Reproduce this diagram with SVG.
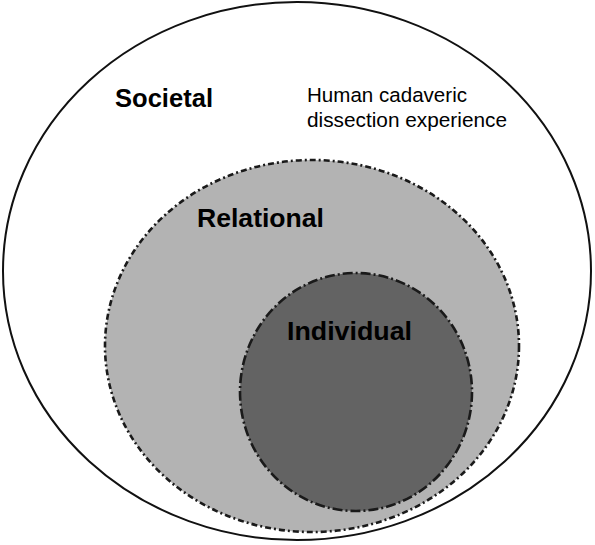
<svg xmlns="http://www.w3.org/2000/svg" width="595" height="545" viewBox="0 0 595 545">
  <style>
    .label { font-family: "Liberation Sans", Arial, sans-serif; font-weight: bold; font-size: 26px; fill: #000; }
    .note { font-family: "Liberation Sans", Arial, sans-serif; font-size: 20.5px; fill: #000; }
    .outer { fill: #ffffff; stroke: #111; stroke-width: 2; }
    .rel { fill: #b3b3b3; stroke: #1a1a1a; stroke-width: 2.6; stroke-dasharray: 6 3 2 3; }
    .ind { fill: #636363; stroke: #1a1a1a; stroke-width: 2.6; stroke-dasharray: 10 3 2 3; }
  </style>
  <rect width="595" height="545" fill="#ffffff"/>
  <g id="societal">
    <ellipse class="outer" cx="297" cy="271" rx="294" ry="269"/>
    <text class="label" x="115" y="107" textLength="98" lengthAdjust="spacingAndGlyphs">Societal</text>
  </g>
  <g id="caption">
    <text class="note" x="307" y="102" textLength="160" lengthAdjust="spacingAndGlyphs">Human cadaveric</text>
    <text class="note" x="307" y="127" textLength="200" lengthAdjust="spacingAndGlyphs">dissection experience</text>
  </g>
  <g id="relational">
    <ellipse class="rel" cx="312" cy="346" rx="207" ry="186"/>
    <text class="label" x="197" y="227" textLength="127" lengthAdjust="spacingAndGlyphs">Relational</text>
  </g>
  <g id="individual">
    <ellipse class="ind" cx="356" cy="392" rx="116" ry="119"/>
    <text class="label" x="287" y="340" textLength="125" lengthAdjust="spacingAndGlyphs">Individual</text>
  </g>
  <g id="connectors"/>
</svg>
